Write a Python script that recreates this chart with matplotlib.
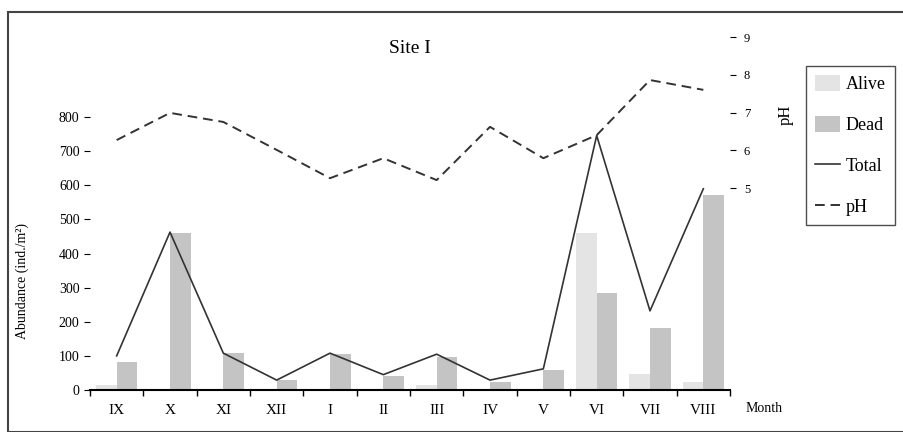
import matplotlib
matplotlib.use("Agg")
import matplotlib.pyplot as plt
import numpy as np
from matplotlib.patches import Rectangle

# Data (Site I)
months = ["IX", "X", "XI", "XII", "I", "II", "III", "IV", "V", "VI", "VII", "VIII"]
alive = [15, 0, 0, 0, 0, 0, 15, 0, 0, 460, 47, 23]
dead = [82, 460, 108, 29, 106, 41, 97, 23, 59, 284, 182, 572]
total = [100, 463, 108, 29, 108, 45, 105, 29, 62, 746, 232, 590]
ph = [6.27, 6.99, 6.75, 6.01, 5.26, 5.79, 5.21, 6.62, 5.79, 6.40, 7.86, 7.60]

left_ticks = [0, 100, 200, 300, 400, 500, 600, 700, 800]
right_ticks = [5, 6, 7, 8, 9]

plt.rcParams['font.family'] = ['Liberation Serif', 'DejaVu Serif']

fig = plt.figure(figsize=(9.04, 4.32), dpi=100)
ax = fig.add_axes([90/904, 42/432, 640/904, 353/432])

x = np.arange(len(months))
w = 0.39
b1 = ax.bar(x - w/2, alive, w, color="#e4e4e4", label="Alive", zorder=2)
b2 = ax.bar(x + w/2, dead, w, color="#c4c4c4", label="Dead", zorder=2)
l1, = ax.plot(x, total, color="#333333", lw=1.2, label="Total", zorder=3)

ax.set_xlim(-0.5, len(months) - 0.5)
ax.set_ylim(0, 1035)
ax.set_yticks(left_ticks)
ax.set_xticks(x)
ax.set_xticklabels(months, fontsize=11)
ax.set_xticks(np.arange(-0.5, len(months)), minor=True)
ax.tick_params(axis="x", which="major", length=0, pad=10)
ax.tick_params(axis="x", which="minor", length=4, direction="out", width=1)
ax.tick_params(axis="y", length=4, labelsize=10)
for s in ["top", "right", "left"]:
    ax.spines[s].set_visible(False)
ax.spines["bottom"].set_linewidth(1.5)
ax.set_ylabel("Abundance (ind./m²)", fontsize=10)
ax.yaxis.set_label_coords(-0.095, 0.31)

ax2 = ax.twinx()
l2, = ax2.plot(x, ph, color="#333333", lw=1.4, ls=(0, (5, 3)), label="pH", zorder=3)
ax2.set_ylim(-0.35, 9.0)
ax2.set_yticks(right_ticks)
ax2.tick_params(axis="y", length=4, labelsize=9, pad=6)
for s in ["top", "right", "left", "bottom"]:
    ax2.spines[s].set_visible(False)
ax2.set_ylabel("pH", fontsize=12)
ax2.yaxis.set_label_coords(1.075, 0.78)

ax.set_title("Site I", fontsize=14, y=0.93)
fig.text(764/904, 1 - 408/432, "Month", fontsize=10, ha="center", va="center")

fig.legend([b1, b2, l1, l2], ["Alive", "Dead", "Total", "pH"], loc="upper left",
           bbox_to_anchor=(806/904, 1 - 66/432),
           fontsize=13, frameon=True, fancybox=False, edgecolor="#222222",
           labelspacing=1.25, handlelength=1.4, handleheight=1.0,
           handletextpad=0.3, borderpad=0.5, borderaxespad=0)

fig.patches.append(Rectangle((8/904, 0.0), 1.2, 1 - 12/432, transform=fig.transFigure,
                             fill=False, edgecolor="#444444", lw=1.5))

fig.savefig("out.png", dpi=100)
